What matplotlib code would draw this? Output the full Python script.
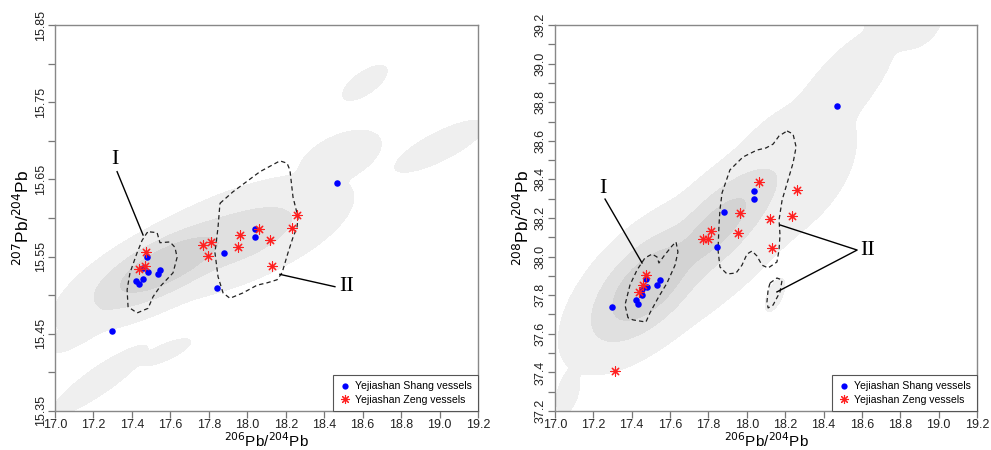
import numpy as np
import matplotlib
matplotlib.use('Agg')
import matplotlib.pyplot as plt
from matplotlib.lines import Line2D

plt.rcParams['font.family'] = ['Liberation Sans', 'DejaVu Sans']

# Yejiashan Shang vessels (same samples in both panels)
shang_206 = [17.477, 17.456, 17.482, 17.545, 17.534, 17.456, 17.421,
             17.435, 17.879, 17.844, 18.039, 18.039, 18.468, 17.296]
shang_207 = [15.549, 15.535, 15.530, 15.533, 15.527, 15.521, 15.518,
             15.514, 15.555, 15.509, 15.586, 15.575, 15.645, 15.453]
shang_208 = [37.886, 37.831, 37.841, 37.877, 37.854, 37.800, 37.777,
             37.754, 38.230, 38.048, 38.338, 38.300, 38.782, 37.739]

# Yejiashan Zeng vessels
zeng_206_a = [17.473, 17.470, 17.438, 17.768, 17.811, 17.796, 17.964,
              17.952, 18.063, 18.117, 18.131, 18.234, 18.259]
zeng_207 = [15.556, 15.538, 15.534, 15.565, 15.569, 15.551, 15.578,
            15.562, 15.586, 15.571, 15.538, 15.587, 15.604]
zeng_206_b = [17.473, 17.460, 17.440, 17.770, 17.815, 17.798, 17.966,
              17.954, 18.065, 18.119, 18.133, 18.237, 18.262, 17.314]
zeng_208 = [37.906, 37.853, 37.818, 38.091, 38.134, 38.091, 38.227,
            38.121, 38.387, 38.195, 38.045, 38.209, 38.347, 37.409]

# background density of regional ore data, bivariate normal terms
# (x, y, sx, sy, rho, weight)
dens_207 = [(17.572, 15.538, 0.2726, 0.04054, 0.741, 1.0),
            (17.936, 15.574, 0.3266, 0.04377, 0.637, 0.6),
            (17.208, 15.4705, 0.1566, 0.03047, 0.868, 0.3),
            (18.482, 15.678, 0.1452, 0.02408, 0.498, 0.3),
            (18.612, 15.775, 0.0782, 0.0153, 0.676, 0.3),
            (19.003, 15.693, 0.159, 0.0228, 0.80, 0.3),
            (17.234, 15.390, 0.168, 0.0304, 0.894, 0.3),
            (17.572, 15.426, 0.091, 0.0119, 0.768, 0.3)]
dens_208 = [(17.485, 37.853, 0.2176, 0.2163, 0.612, 1.0),
            (17.839, 38.148, 0.2425, 0.2410, 0.776, 0.85),
            (17.834, 38.086, 0.4058, 0.3821, 0.774, 0.3),
            (18.225, 38.449, 0.2313, 0.2475, 0.418, 0.3),
            (18.486, 38.863, 0.1962, 0.2235, 0.775, 0.3),
            (18.814, 39.278, 0.1408, 0.1399, 0.0, 0.3),
            (18.147, 37.801, 0.0349, 0.0578, 0.593, 0.3),
            (17.068, 37.298, 0.0407, 0.0757, 0.386, 0.3)]
dens_levels = [0.1, 0.4, 0.7, 100]
dens_colors = ['#efefef', '#e0e0e0', '#d3d3d3']

# group outlines (I and II)
g1_207_x = [17.494, 17.531, 17.546, 17.598, 17.624, 17.635, 17.614, 17.546, 17.510,
            17.484, 17.427, 17.380, 17.375, 17.390, 17.427, 17.453, 17.479, 17.494]
g1_207_y = [15.582, 15.581, 15.568, 15.569, 15.562, 15.549, 15.529, 15.511, 15.498,
            15.483, 15.477, 15.485, 15.507, 15.529, 15.555, 15.571, 15.581, 15.582]
g2_207_x = [17.858, 17.926, 18.066, 18.170, 18.207, 18.222, 18.238, 18.264, 18.259,
            18.238, 18.212, 18.181, 18.155, 18.103, 18.051, 17.978, 17.910, 17.874,
            17.848, 17.832, 17.848, 17.858]
g2_207_y = [15.619, 15.634, 15.660, 15.674, 15.671, 15.662, 15.627, 15.601, 15.588,
            15.575, 15.555, 15.529, 15.520, 15.516, 15.513, 15.503, 15.496, 15.503,
            15.524, 15.555, 15.588, 15.619]
g1_208_x = [17.381, 17.365, 17.391, 17.428, 17.469, 17.506, 17.532, 17.542, 17.568,
            17.610, 17.631, 17.641, 17.626, 17.584, 17.537, 17.495, 17.474, 17.443,
            17.407, 17.381]
g1_208_y = [37.682, 37.749, 37.853, 37.931, 37.993, 38.013, 37.998, 37.967, 38.003,
            38.055, 38.076, 38.024, 37.956, 37.863, 37.785, 37.708, 37.661, 37.666,
            37.672, 37.682]
g2_208_x = [18.210, 18.241, 18.257, 18.241, 18.215, 18.184, 18.168, 18.173, 18.168,
            18.157, 18.111, 18.079, 18.053, 18.027, 18.001, 17.975, 17.944, 17.897,
            17.860, 17.850, 17.855, 17.860, 17.871, 17.912, 17.980, 18.053, 18.100,
            18.137, 18.168, 18.210]
g2_208_y = [38.651, 38.635, 38.568, 38.485, 38.397, 38.293, 38.190, 38.112, 38.034,
            37.972, 37.941, 37.956, 38.003, 38.029, 38.013, 37.956, 37.915, 37.910,
            37.946, 38.034, 38.164, 38.241, 38.330, 38.449, 38.516, 38.552, 38.563,
            38.583, 38.625, 38.651]
g2b_208_x = [18.121, 18.157, 18.184, 18.173, 18.137, 18.111, 18.105, 18.111, 18.121]
g2b_208_y = [37.863, 37.889, 37.879, 37.817, 37.749, 37.734, 37.765, 37.827, 37.863]

x_ticks = np.round(np.arange(17.0, 19.21, 0.2), 1)


def density(X, Y, comps, p=4):
    # smooth maximum of the single terms
    Z = np.zeros_like(X)
    for cx, cy, sx, sy, rho, w in comps:
        dx = (X - cx) / sx
        dy = (Y - cy) / sy
        q = (dx * dx - 2 * rho * dx * dy + dy * dy) / (1 - rho * rho)
        Z += (w * np.exp(-0.5 * q)) ** p
    return Z ** (1.0 / p)


def panel(ax, ylim, comps, outlines, sx, sy, zx, zy):
    gx = np.linspace(17.0, 19.2, 600)
    gy = np.linspace(ylim[0], ylim[1], 600)
    X, Y = np.meshgrid(gx, gy)
    ax.contourf(X, Y, density(X, Y, comps), levels=dens_levels, colors=dens_colors)
    for ox, oy in outlines:
        ax.plot(ox, oy, color='#222222', lw=0.9, ls=(0, (3.5, 2.5)))
    ax.scatter(sx, sy, s=22, color='#0000ff', zorder=4, lw=0)
    ax.scatter(zx, zy, s=45, marker=(8, 2, 0), color='#ff2020', lw=0.8, zorder=5)
    ax.set_xlim(17.0, 19.2)
    ax.set_ylim(*ylim)
    ax.set_xticks(x_ticks)
    ax.set_xticklabels(['%.1f' % t for t in x_ticks])
    for s in ax.spines.values():
        s.set_color('#888888')
        s.set_linewidth(1.0)
    ax.tick_params(direction='out', length=5, width=0.9, color='#777777',
                   labelsize=9, labelcolor='#222222', pad=1)
    ax.set_xlabel(r'$^{206}$Pb/$^{204}$Pb', fontsize=11, labelpad=0)
    handles = [Line2D([], [], ls='none', marker='o', ms=4.5, mfc='#0000ff', mec='none'),
               Line2D([], [], ls='none', marker=(8, 2, 0), ms=6.5, mec='#ff2020', mew=0.8)]
    leg = ax.legend(handles, ['Yejiashan Shang vessels', 'Yejiashan Zeng vessels'],
                    loc='lower right', borderaxespad=0, fancybox=False, fontsize=7.6,
                    handletextpad=0.3, handlelength=1.2, borderpad=0.6, labelspacing=0.3,
                    framealpha=1)
    leg.get_frame().set_edgecolor('#555555')
    leg.get_frame().set_linewidth(0.8)


fig = plt.figure(figsize=(9.91, 4.5), dpi=100)
ax1 = fig.add_axes([0.0555, 0.0867, 0.4268, 0.8577])
ax2 = fig.add_axes([0.5600, 0.0867, 0.4259, 0.8577])

panel(ax1, (15.35, 15.85), dens_207, [(g1_207_x, g1_207_y), (g2_207_x, g2_207_y)],
      shang_206, shang_207, zeng_206_a, zeng_207)
panel(ax2, (37.2, 39.2), dens_208,
      [(g1_208_x, g1_208_y), (g2_208_x, g2_208_y), (g2b_208_x, g2b_208_y)],
      shang_206, shang_208, zeng_206_b, zeng_208)

yt1 = np.round(np.arange(15.35, 15.851, 0.05), 2)
ax1.set_yticks(yt1)
ax1.set_yticklabels(['%.2f' % t if i % 2 == 0 else '' for i, t in enumerate(yt1)])
yt2 = np.round(np.arange(37.2, 39.21, 0.1), 1)
ax2.set_yticks(yt2)
ax2.set_yticklabels(['%.1f' % t if i % 2 == 0 else '' for i, t in enumerate(yt2)])
for ax in (ax1, ax2):
    for lab in ax.get_yticklabels():
        lab.set_rotation(90)
        lab.set_va('center')

ax1.set_ylabel(r'$^{207}$Pb/$^{204}$Pb', fontsize=12.5, labelpad=2)
ax2.set_ylabel(r'$^{208}$Pb/$^{204}$Pb', fontsize=12.5, labelpad=2)

# group labels with leader lines
serif = dict(family='Liberation Serif', fontsize=16, ha='center', va='center')
ax1.text(17.312, 15.676, 'I', **serif)
ax1.plot([17.323, 17.458], [15.660, 15.578], color='black', lw=1.0)
ax1.text(18.516, 15.511, 'II', **serif)
ax1.plot([18.170, 18.456], [15.527, 15.511], color='black', lw=1.0)
ax2.text(17.250, 38.355, 'I', **serif)
ax2.plot([17.261, 17.454], [38.298, 37.967], color='black', lw=1.0)
ax2.text(18.632, 38.034, 'II', **serif)
ax2.plot([18.173, 18.575, 18.157], [38.164, 38.034, 37.817], color='black', lw=1.0)

fig.savefig('out.png', dpi=100)
